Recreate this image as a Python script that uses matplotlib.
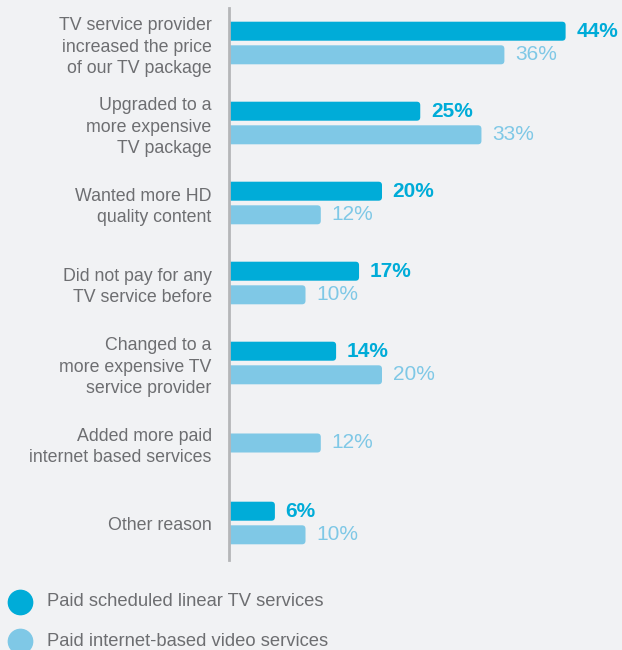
import matplotlib

matplotlib.use("Agg")
import matplotlib.pyplot as plt
from matplotlib.lines import Line2D
from matplotlib.patches import FancyBboxPatch

plt.rcParams["font.family"] = ["Liberation Sans", "DejaVu Sans"]

reasons = [
    "TV service provider\nincreased the price\nof our TV package",
    "Upgraded to a\nmore expensive\nTV package",
    "Wanted more HD\nquality content",
    "Did not pay for any\nTV service before",
    "Changed to a\nmore expensive TV\nservice provider",
    "Added more paid\ninternet based services",
    "Other reason",
]
linear_tv = [44, 25, 20, 17, 14, None, 6]
internet_video = [36, 33, 12, 10, 20, 12, 10]
series_names = ["Paid scheduled linear TV services", "Paid internet-based video services"]

DARK = "#00acd8"
LIGHT = "#7fc8e6"
BG = "#f1f2f4"
TEXT = "#6d6e71"

W, H = 622, 650
fig = plt.figure(figsize=(W / 100, H / 100), dpi=100, facecolor=BG)

# axes placed in pixel terms: spine at x=229, from y=8 to y=560
left_px, top_px, bottom_px = 229, 8, 560
ax = fig.add_axes([left_px / W, 1 - bottom_px / H, (W - left_px) / W, (bottom_px - top_px) / H])
ax.set_facecolor(BG)

px_per_y = 80.0   # vertical spacing between groups
px_per_x = 7.65   # pixels per percentage point
ax.set_ylim((bottom_px - 43) / px_per_y, -(43 - top_px) / px_per_y)
ax.set_xlim(0, (W - left_px) / px_per_x)

bar_h = 19 / px_per_y
offset = 11.8 / px_per_y
radius_px = 3.5


def rounded_bar(y, value, color):
    # start left of zero so only the right end shows rounded corners
    start = -2.0
    patch = FancyBboxPatch(
        (start, y - bar_h / 2), value - start, bar_h,
        boxstyle=f"round,pad=0,rounding_size={radius_px / px_per_x}",
        mutation_aspect=px_per_x / px_per_y,
        facecolor=color, edgecolor="none", zorder=2,
    )
    ax.add_patch(patch)


def value_label(y, value, color, weight):
    ax.text(value + 1.4, y, f"{value}%", va="center", ha="left", color=color,
            fontsize=15, fontweight=weight)


for i, (a, b) in enumerate(zip(linear_tv, internet_video)):
    if a is None:
        rounded_bar(i, b, LIGHT)
        value_label(i, b, LIGHT, "normal")
        continue
    rounded_bar(i - offset, a, DARK)
    value_label(i - offset, a, DARK, "bold")
    rounded_bar(i + offset, b, LIGHT)
    value_label(i + offset, b, LIGHT, "normal")

ax.set_yticks(range(len(reasons)))
ax.set_yticklabels(reasons, fontsize=12.75, color=TEXT, linespacing=1.33)
ax.tick_params(axis="y", length=0, pad=12.5)
ax.set_xticks([])
for side in ("top", "right", "bottom"):
    ax.spines[side].set_visible(False)
ax.spines["left"].set_color("#b5b6b8")
ax.spines["left"].set_linewidth(2)
ax.spines["left"].set_zorder(3)

# legend drawn as dots and labels in figure pixels
for name, color, y_px in zip(series_names, [DARK, LIGHT], [602, 641]):
    fig.add_artist(Line2D([20 / W], [1 - y_px / H], marker="o", markersize=17.5,
                          color=color, transform=fig.transFigure))
    fig.text(47 / W, 1 - y_px / H, name, va="center", ha="left", fontsize=13.2, color=TEXT)

fig.savefig("out.png", dpi=100, facecolor=BG)
